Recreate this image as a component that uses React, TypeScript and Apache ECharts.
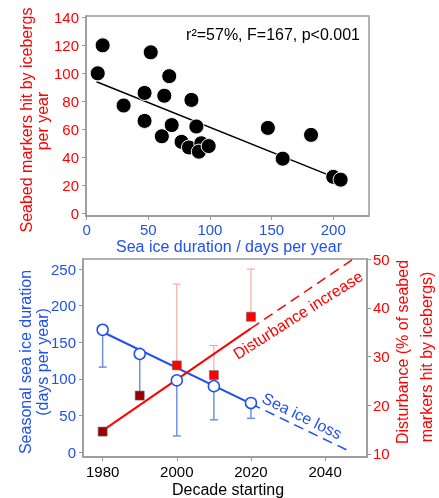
import React, { useEffect, useRef } from 'react';
import * as echarts from 'echarts';

// ---- Top panel: markers hit vs sea ice duration ----
const seaIceDays = [9, 13, 30, 47, 47, 52, 61, 63, 67, 69, 85, 77, 83, 89, 93, 91, 99, 147, 159, 182, 200, 206];
const markersHit = [100, 120, 77, 86, 66, 115, 55, 84, 98, 63, 81, 51, 47, 62, 50, 44, 48, 61, 39, 56, 26, 24];
const fitDays = [8, 200];
const fitHits = [94, 26];
const topXTicks = [0, 50, 100, 150, 200];
const topYTicks = [0, 20, 40, 60, 80, 100, 120, 140];

// ---- Bottom panel: decades ----
const decades = [1980, 1990, 2000, 2010, 2020];
const iceDuration = [167, 134, 98, 90, 67];
const iceLower = [116, 78, 22, 44, 46];
const disturbance = [14.6, 22.0, 28.2, 26.2, 38.2];
const disturbanceUpper = [null, null, 44.9, 32.3, 48.0];
const disturbanceColors = ['#990000', '#990000', '#ff0000', '#ff0000', '#ff0000'];
const iceFitYears = [1980, 2020, 2047];
const iceFitValues = [164, 66, 0];
const distFitYears = [1980, 2020, 2047.5];
const distFitValues = [14.8, 35.8, 50];
const bottomXTicks = [1980, 2000, 2020, 2040];
const leftTicks = [0, 50, 100, 150, 200, 250];
const rightTicks = [10, 20, 30, 40, 50];

const FONT = 'Liberation Sans, Arial, sans-serif';
const BLUE = '#1f50f0';
const RED = '#ff0000';
const GRAY = '#999999';

function errBar(color: string, width: number) {
  return (params: any, api: any) => {
    const x = api.value(0);
    const a = api.coord([x, api.value(1)]);
    const b = api.coord([x, api.value(2)]);
    return {
      type: 'group',
      children: [
        { type: 'line', shape: { x1: a[0], y1: a[1], x2: b[0], y2: b[1] }, style: { stroke: color, lineWidth: width } },
        { type: 'line', shape: { x1: b[0] - 4, y1: b[1], x2: b[0] + 4, y2: b[1] }, style: { stroke: color, lineWidth: width } },
      ],
    };
  };
}

function axisCommon(ticks: number[], labelColor: string, margin: number) {
  return {
    axisLine: { show: true, onZero: false, lineStyle: { color: GRAY, width: 1.5 } },
    axisTick: { show: true, customValues: ticks, length: 4, lineStyle: { color: GRAY, width: 1 } },
    axisLabel: {
      customValues: ticks, color: labelColor, fontSize: 15, fontFamily: FONT, margin,
      formatter: (v: number) => String(v),
    },
    splitLine: { show: false },
  };
}

function txt(text: string, x: number, y: number, color: string, rotDeg = 0, size = 16, align = 'center') {
  return {
    type: 'text',
    x,
    y,
    rotation: (rotDeg * Math.PI) / 180,
    style: { text, fill: color, font: `${size}px ${FONT}`, align, verticalAlign: 'middle' },
    z: 100,
  };
}

export default function App() {
  const ref = useRef<HTMLDivElement>(null);
  useEffect(() => {
    if (!ref.current) return;
    const chart = echarts.init(ref.current, undefined, { renderer: 'svg' });
    const scatterData = seaIceDays.map((d, i) => [d, markersHit[i]]);
    const fitData = fitDays.map((d, i) => [d, fitHits[i]]);
    const iceErr = decades.map((y, i) => [y, iceDuration[i], iceLower[i]]);
    const distErr = decades
      .map((y, i) => [y, disturbance[i], disturbanceUpper[i]])
      .filter((r) => r[2] !== null);
    const option: any = {
      animation: false,
      grid: [
        { left: 86, top: 16, width: 283, height: 200, show: true, borderColor: GRAY, borderWidth: 1.5 },
        { left: 83, top: 259, width: 284, height: 198, show: true, borderColor: GRAY, borderWidth: 1.5 },
      ],
      xAxis: [
        { type: 'value', gridIndex: 0, min: -0.5, max: 229, ...axisCommon(topXTicks, BLUE, 6) },
        { type: 'value', gridIndex: 1, min: 1974.7, max: 2051.3, ...axisCommon(bottomXTicks, '#000', 7) },
      ],
      yAxis: [
        { type: 'value', gridIndex: 0, min: -2, max: 141, ...axisCommon(topYTicks, RED, 7) },
        { type: 'value', gridIndex: 1, min: -6.8, max: 263.7, ...axisCommon(leftTicks, BLUE, 7) },
        { type: 'value', gridIndex: 1, position: 'right', min: 9.38, max: 50.06, ...axisCommon(rightTicks, RED, 6) },
      ],
      series: [
        {
          type: 'line', xAxisIndex: 0, yAxisIndex: 0, data: fitData, symbol: 'none',
          lineStyle: { color: '#000', width: 1.5 }, z: 2,
        },
        {
          type: 'scatter', xAxisIndex: 0, yAxisIndex: 0, data: scatterData, symbolSize: 15,
          itemStyle: { color: '#000', borderColor: '#fff', borderWidth: 1, opacity: 1 }, z: 3,
        },
        { type: 'custom', xAxisIndex: 1, yAxisIndex: 1, data: iceErr, renderItem: errBar('#7090e8', 1.5), z: 1 },
        { type: 'custom', xAxisIndex: 1, yAxisIndex: 2, data: distErr, renderItem: errBar('#f59a9a', 1), z: 1 },
        {
          type: 'line', xAxisIndex: 1, yAxisIndex: 1, symbol: 'none', z: 2,
          data: [[iceFitYears[0], iceFitValues[0]], [iceFitYears[1], iceFitValues[1]]],
          lineStyle: { color: BLUE, width: 2 },
        },
        {
          type: 'line', xAxisIndex: 1, yAxisIndex: 1, symbol: 'none', z: 2,
          data: [[iceFitYears[1], iceFitValues[1]], [iceFitYears[2], iceFitValues[2]]],
          lineStyle: { color: BLUE, width: 1.5, type: [10, 6] },
        },
        {
          type: 'line', xAxisIndex: 1, yAxisIndex: 2, symbol: 'none', z: 3,
          data: [[distFitYears[0], distFitValues[0]], [distFitYears[1], distFitValues[1]]],
          lineStyle: { color: RED, width: 2 },
        },
        {
          type: 'line', xAxisIndex: 1, yAxisIndex: 2, symbol: 'none', z: 3,
          data: [[distFitYears[1], distFitValues[1]], [distFitYears[2], distFitValues[2]]],
          lineStyle: { color: RED, width: 1.5, type: [10, 6] },
        },
        {
          type: 'scatter', xAxisIndex: 1, yAxisIndex: 1, symbol: 'circle', symbolSize: 11, z: 4,
          data: decades.map((y, i) => [y, iceDuration[i]]),
          itemStyle: { color: '#fff', borderColor: BLUE, borderWidth: 1.5, opacity: 1 },
        },
        {
          type: 'scatter', xAxisIndex: 1, yAxisIndex: 2, symbol: 'rect', symbolSize: 9, z: 5,
          data: decades.map((y, i) => ({ value: [y, disturbance[i]], itemStyle: { color: disturbanceColors[i] } })),
          itemStyle: { borderColor: '#666', borderWidth: 0.6, opacity: 1 },
        },
      ],
      graphic: [
        txt('r\u00b2=57%, F=167, p<0.001', 360, 34, '#000', 0, 16, 'right'),
        txt('Seabed markers hit by icebergs', 26, 120, RED, 90),
        txt('per year', 42, 121, RED, 90),
        txt('Sea ice duration / days per year', 229, 246, BLUE),
        txt('Seasonal sea ice duration', 25, 362, BLUE, 90),
        txt('(days per year)', 42.5, 362, BLUE, 90),
        txt('Disturbance (% of seabed', 402, 352, RED, 90),
        txt('markers hit by icebergs)', 426, 357, RED, 90),
        txt('Decade starting', 228, 489, '#000'),
        txt('Disturbance increase', 298, 315, RED, 32.5, 16),
        txt('Sea ice loss', 302, 416, BLUE, -26, 16),
      ],
    };
    chart.setOption(option);
    return () => chart.dispose();
  }, []);
  return <div ref={ref} style={{ position: 'fixed', left: 0, top: 0, width: 439, height: 498 }} />;
}
